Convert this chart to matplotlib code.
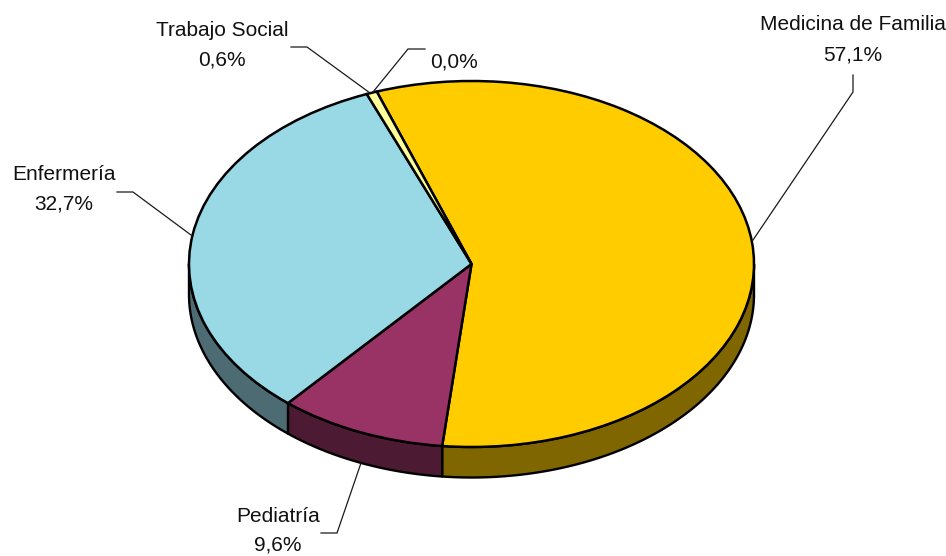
import numpy as np
import matplotlib
matplotlib.use("Agg")
import matplotlib.pyplot as plt
from matplotlib.patches import Polygon
from matplotlib.transforms import Affine2D

plt.rcParams['font.family'] = ['Liberation Sans', 'DejaVu Sans']

categories = ['', 'Medicina de Familia', 'Pediatría', 'Enfermería', 'Trabajo Social']
values = [0.0, 57.1, 9.6, 32.7, 0.6]
pct_labels = ['0,0%', '57,1%', '9,6%', '32,7%', '0,6%']
top_colors = ['#FFFFFF', '#FFCC00', '#993366', '#99D9E6', '#FFFF99']
side_colors = ['#808080', '#806600', '#4D1A33', '#4D6B73', '#80804D']

W, H = 946, 556
CX, CY, RX, RY, DEPTH = 471.5, 264, 282.5, 183, 30.5
START_CW = -19.6

fig = plt.figure(figsize=(W / 100, H / 100), dpi=100)
ax = fig.add_axes([0, 0, 1, 1])

ell = Affine2D().scale(RX, -RY).translate(CX, CY)

edges = START_CW + np.concatenate([[0], np.cumsum(values)]) / np.sum(values) * 360


def rim(a_deg, dz=0.0):
    t = np.radians(a_deg)
    return np.column_stack([CX + RX * np.sin(t), CY - RY * np.cos(t) + dz])


# side walls (only the front half of the ellipse is visible)
for i in range(len(values)):
    a0, a1 = max(edges[i], 90), min(edges[i + 1], 270)
    if a1 <= a0:
        continue
    arc = np.linspace(a0, a1, 200)
    pts = np.vstack([rim(arc), rim(arc, DEPTH)[::-1]])
    ax.add_patch(Polygon(pts, closed=True, facecolor=side_colors[i],
                         edgecolor='black', linewidth=1.7, joinstyle='round', zorder=1))

# top face
wedges, _ = ax.pie(values, colors=top_colors, startangle=90 - START_CW,
                   counterclock=False, radius=1.0,
                   wedgeprops=dict(edgecolor='black', linewidth=1.8))
for w in wedges:
    w.set_transform(ell + ax.transData)
    w.set_zorder(2)

ax.set_aspect('auto')
ax.set_xlim(0, W)
ax.set_ylim(H, 0)
ax.axis('off')

# leader lines
leaders = [
    [(425, 49), (408, 49), (373, 92)],
    [(853, 75), (853, 92), (753, 240)],
    [(321, 533), (337, 533), (361, 463)],
    [(117, 192), (133, 192), (191, 235)],
    [(291, 47), (307, 47), (370, 93)],
]
for pts in leaders:
    xs, ys = zip(*pts)
    ax.plot(xs, ys, color='#1a1a1a', lw=0.9, zorder=3, solid_joinstyle='miter')

# labels
FS = 15
positions = [
    (454, 62, None),
    (853, 24, 55),
    (278, 516, 545),
    (64, 174, 204),
    (222, 30, 60),
]
text_kw = dict(ha='center', va='center', fontsize=FS, color='#111111', zorder=4)
ax.text(positions[0][0], positions[0][1], pct_labels[0], **text_kw)
for i in range(1, 5):
    x, y1, y2 = positions[i]
    ax.text(x, y1, categories[i], **text_kw)
    ax.text(x, y2, pct_labels[i], **text_kw)

fig.savefig('out.png', dpi=100)
